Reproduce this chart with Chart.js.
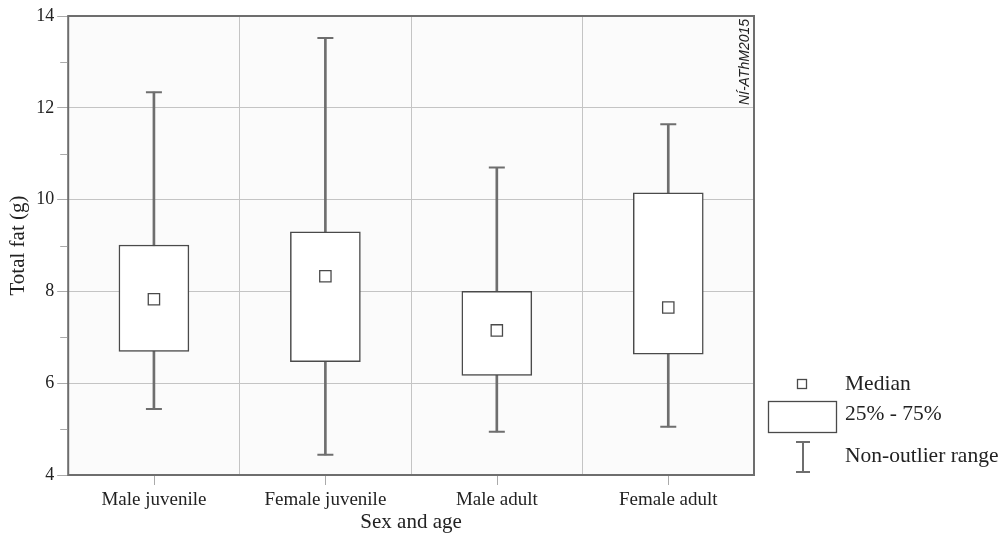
<!DOCTYPE html>
<html>
<head>
<meta charset="utf-8">
<script src="https://cdn.jsdelivr.net/npm/chart.js@4"></script>
<style>
  html, body { margin: 0; padding: 0; background: #fff; }
  #wrap { width: 1001px; height: 535px; }
</style>
</head>
<body>
<div id="wrap"><canvas id="fatChart"></canvas></div>
<script>
const groups = ['Male juvenile', 'Female juvenile', 'Male adult', 'Female adult'];
const whiskerLow = [5.44, 4.44, 4.94, 5.05];
const q1 = [6.69, 6.47, 6.17, 6.63];
const medians = [7.83, 8.33, 7.15, 7.65];
const q3 = [9.01, 9.30, 8.00, 10.15];
const whiskerHigh = [12.34, 13.52, 10.70, 11.64];
const yLabels = [4, 6, 8, 10, 12, 14];

const serif = '"Liberation Serif", "Times New Roman", serif';
const dark = '#4a4a4a';
const mid = '#6e6e6e';

// background, frame, minor ticks, x centre ticks, legend and stamp
const decor = {
  id: 'decor',
  beforeDraw(chart) {
    const { ctx, chartArea: a } = chart;
    ctx.save();
    ctx.fillStyle = '#fbfbfb';
    ctx.fillRect(a.left, a.top, a.right - a.left, a.bottom - a.top);
    ctx.restore();
  },
  afterDraw(chart) {
    const { ctx, chartArea: a } = chart;
    const x = chart.scales.x;
    const y = chart.scales.y;
    ctx.save();
    // frame
    ctx.strokeStyle = mid;
    ctx.lineWidth = 2;
    ctx.strokeRect(a.left, a.top, a.right - a.left, a.bottom - a.top);
    ctx.strokeStyle = '#aaa';
    ctx.lineWidth = 1;
    // minor y ticks
    y.ticks.forEach(t => {
      if (t.value % 2 === 0) return;
      const py = Math.round(y.getPixelForValue(t.value)) + 0.5;
      ctx.beginPath();
      ctx.moveTo(a.left - 8, py);
      ctx.lineTo(a.left - 1, py);
      ctx.stroke();
    });
    // x ticks at category centres
    groups.forEach((g, i) => {
      const px = Math.round(x.getPixelForValue(i)) + 0.5;
      ctx.beginPath();
      ctx.moveTo(px, a.bottom + 1);
      ctx.lineTo(px, a.bottom + 10);
      ctx.stroke();
    });
    // stamp
    ctx.translate(a.right - 9, a.top + 46);
    ctx.rotate(-Math.PI / 2);
    ctx.fillStyle = '#222';
    ctx.font = 'italic 14px "Liberation Sans", Arial, sans-serif';
    ctx.textAlign = 'center';
    ctx.textBaseline = 'middle';
    ctx.fillText('NÍ-AThM2015', 0, 0);
    ctx.restore();

    // legend
    ctx.save();
    ctx.strokeStyle = dark;
    ctx.lineWidth = 1.3;
    ctx.strokeRect(797.5, 379.5, 9, 9);
    ctx.strokeRect(768.5, 401.5, 68, 31);
    ctx.strokeStyle = mid;
    ctx.lineWidth = 2;
    ctx.beginPath();
    ctx.moveTo(803, 442); ctx.lineTo(803, 472);
    ctx.moveTo(796, 442); ctx.lineTo(810, 442);
    ctx.moveTo(796, 472); ctx.lineTo(810, 472);
    ctx.stroke();
    ctx.fillStyle = '#222';
    ctx.font = '21.5px ' + serif;
    ctx.textBaseline = 'middle';
    ctx.fillText('Median', 845, 384);
    ctx.fillText('25% - 75%', 845, 414);
    ctx.fillText('Non-outlier range', 845, 456);
    ctx.restore();
  }
};

new Chart(document.getElementById('fatChart'), {
  type: 'bar',
  data: {
    labels: groups,
    datasets: [
      {
        label: 'Median',
        type: 'line',
        data: medians,
        showLine: false,
        pointStyle: 'rect',
        pointRadius: 8,
        pointBackgroundColor: '#fff',
        pointBorderColor: dark,
        pointBorderWidth: 1.3,
        order: 1
      },
      {
        label: 'Upper cap',
        type: 'line',
        data: whiskerHigh,
        showLine: false,
        pointStyle: 'line',
        pointRadius: 8,
        pointBorderColor: mid,
        pointBorderWidth: 2,
        order: 2
      },
      {
        label: 'Lower cap',
        type: 'line',
        data: whiskerLow,
        showLine: false,
        pointStyle: 'line',
        pointRadius: 8,
        pointBorderColor: mid,
        pointBorderWidth: 2,
        order: 2
      },
      {
        label: '25% - 75%',
        data: groups.map((g, i) => [q1[i], q3[i]]),
        backgroundColor: '#fff',
        borderColor: dark,
        borderWidth: 1.5,
        borderSkipped: false,
        barThickness: 70,
        grouped: false,
        order: 3
      },
      {
        label: 'Non-outlier range',
        data: groups.map((g, i) => [whiskerLow[i], whiskerHigh[i]]),
        backgroundColor: mid,
        borderWidth: 0,
        barThickness: 2,
        grouped: false,
        order: 4
      }
    ]
  },
  options: {
    responsive: true,
    maintainAspectRatio: false,
    animation: false,
    layout: { padding: { top: 16, right: 247, left: 2, bottom: 0 } },
    plugins: {
      legend: { display: false },
      tooltip: { enabled: false }
    },
    scales: {
      x: {
        grid: { color: '#c4c4c4', lineWidth: 1, offset: true, drawTicks: false },
        border: { display: false },
        ticks: { color: '#222', font: { family: serif, size: 19 }, padding: 14 },
        title: { display: true, text: 'Sex and age', color: '#222', font: { family: serif, size: 21 }, padding: { top: -16, bottom: 0 } }
      },
      y: {
        min: 4,
        max: 14,
        ticks: {
          stepSize: 1,
          color: '#222',
          font: { family: serif, size: 18 },
          padding: 3,
          callback: v => yLabels.includes(v) ? v : ''
        },
        grid: {
          color: c => (c.tick && c.tick.value % 2 === 0) ? '#c4c4c4' : 'transparent',
          tickColor: c => (c.tick && c.tick.value % 2 === 0) ? '#aaa' : 'transparent',
          tickLength: 11
        },
        border: { display: false },
        title: { display: true, text: 'Total fat (g)', color: '#222', font: { family: serif, size: 21 }, padding: { top: 4, bottom: 2 } }
      }
    }
  },
  plugins: [decor]
});
</script>
</body>
</html>
